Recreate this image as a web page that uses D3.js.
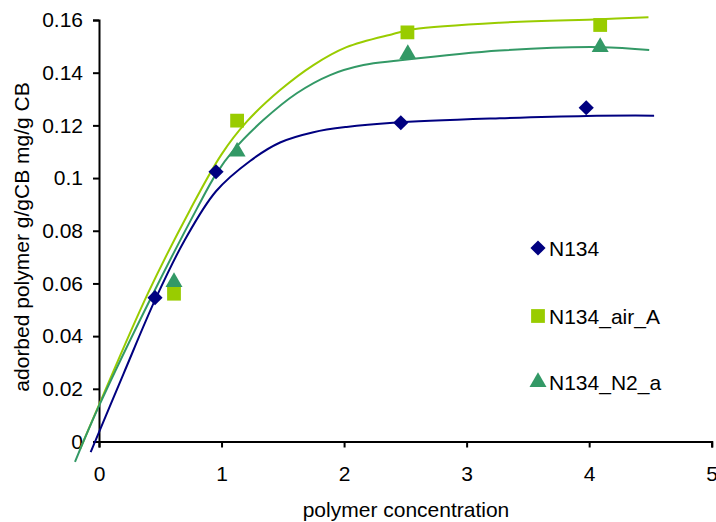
<!DOCTYPE html>
<html>
<head>
<meta charset="utf-8">
<script src="https://cdn.jsdelivr.net/npm/d3@7"></script>
<style>
  html, body { margin: 0; padding: 0; background: #fff; }
  svg { display: block; font-family: Arial, "Liberation Sans", sans-serif; }
</style>
</head>
<body>
<svg id="chart" width="716" height="522"></svg>
<script>
// Measured adsorption points (polymer concentration vs adsorbed polymer)
const seriesNames = ["N134", "N134_air_A", "N134_N2_a"];
const n134X = [0.457, 0.955, 2.463, 3.976];
const n134Y = [0.0546, 0.1024, 0.121, 0.1267];
const airX = [0.612, 1.127, 2.517, 4.09];
const airY = [0.0561, 0.1218, 0.1553, 0.1581];
const n2X = [0.612, 1.127, 2.52, 4.09];
const n2Y = [0.0605, 0.110, 0.1471, 0.1497];

// Fitted trend curves, sampled along each series
const n134FitX = [-0.068, 0.2, 0.465, 0.7, 0.955, 1.233, 1.478, 1.75, 2.02, 2.40, 3.27, 3.98, 4.53];
const n134FitY = [-0.004, 0.0257, 0.0545, 0.0765, 0.095, 0.1065, 0.1135, 0.1174, 0.1194, 0.121, 0.1227, 0.1236, 0.1237];
const airFitX = [-0.155, 0, 0.40, 0.743, 1.0, 1.206, 1.478, 1.75, 2.02, 2.40, 2.566, 3.27, 4.09, 4.484];
const airFitY = [-0.003, 0.0139, 0.0563, 0.0879, 0.109, 0.1214, 0.1334, 0.1429, 0.1497, 0.1547, 0.1565, 0.159, 0.1603, 0.161];
const n2FitX = [-0.196, 0, 0.44, 0.80, 0.955, 1.10, 1.341, 1.614, 1.886, 2.158, 2.443, 3.27, 4.09, 4.49];
const n2FitY = [-0.0077, 0.0135, 0.056, 0.0885, 0.1015, 0.1107, 0.122, 0.1322, 0.1391, 0.1429, 0.1446, 0.1484, 0.1497, 0.1486];

const xTicks = [0, 1, 2, 3, 4, 5];
const yTicks = [0, 0.02, 0.04, 0.06, 0.08, 0.1, 0.12, 0.14, 0.16];
const yTickLabels = ["0", "0.02", "0.04", "0.06", "0.08", "0.1", "0.12", "0.14", "0.16"];

const colors = ["#000080", "#99CC00", "#339966"];
const symbols = [d3.symbolSquare, d3.symbolSquare, d3.symbolTriangle];
const rotations = [45, 0, 0];
const symSizes = [115, 190, 125];

const svg = d3.select("#chart");
const x = d3.scaleLinear().domain([0, 5]).range([99, 711.7]);
const y = d3.scaleLinear().domain([0, 0.16]).range([441.5, 20]);

const zip = (a, b) => a.map((v, i) => [v, b[i]]);
const series = [
  { pts: zip(n134X, n134Y), fit: zip(n134FitX, n134FitY) },
  { pts: zip(airX, airY), fit: zip(airFitX, airFitY) },
  { pts: zip(n2X, n2Y), fit: zip(n2FitX, n2FitY) }
];

// Axes
const fontSize = 21;
const xAxis = d3.axisBottom(x).tickValues(xTicks).tickSize(6).tickPadding(19).tickFormat(d3.format("d"));
const yAxis = d3.axisLeft(y).tickValues(yTicks).tickSize(6).tickPadding(10)
  .tickFormat((d, i) => yTickLabels[i]);

const gx = svg.append("g").attr("transform", `translate(0,${y(0)})`).call(xAxis);
const gy = svg.append("g").attr("transform", `translate(${x(0)},0)`).call(yAxis);
[gx, gy].forEach(g => {
  g.select(".domain").attr("stroke", "#000").attr("stroke-width", 2);
  g.selectAll(".tick line").attr("stroke", "#000").attr("stroke-width", 2);
  g.selectAll(".tick text").attr("fill", "#000").style("font-size", fontSize + "px")
    .style("font-family", "Arial, 'Liberation Sans', sans-serif");
});

// Trend curves
const line = d3.line().x(d => x(d[0])).y(d => y(d[1])).curve(d3.curveCatmullRom.alpha(0.5));
series.forEach((s, i) => {
  svg.append("path").datum(s.fit)
    .attr("fill", "none").attr("stroke", colors[i]).attr("stroke-width", 2)
    .attr("d", line);
});

// Markers
series.forEach((s, i) => {
  svg.append("g").selectAll("path").data(s.pts).join("path")
    .attr("transform", d => `translate(${x(d[0])},${y(d[1])}) rotate(${rotations[i]})`)
    .attr("d", d3.symbol().type(symbols[i]).size(symSizes[i]))
    .attr("fill", colors[i]);
});

// Legend
const legendY = [248, 316, 382];
const legend = svg.append("g");
seriesNames.forEach((name, i) => {
  legend.append("path")
    .attr("transform", `translate(538,${legendY[i]}) rotate(${rotations[i]})`)
    .attr("d", d3.symbol().type(symbols[i]).size(symSizes[i]))
    .attr("fill", colors[i]);
  legend.append("text")
    .attr("x", 549).attr("y", legendY[i] + 7.5)
    .style("font-size", fontSize + "px").attr("fill", "#000")
    .text(name);
});

// Axis titles
svg.append("text")
  .attr("x", 406).attr("y", 517)
  .attr("text-anchor", "middle")
  .style("font-size", fontSize + "px").attr("fill", "#000")
  .text("polymer concentration");
svg.append("text")
  .attr("transform", "translate(28.5,237) rotate(-90)")
  .attr("text-anchor", "middle")
  .style("font-size", fontSize + "px").attr("fill", "#000")
  .text("adorbed polymer g/gCB mg/g CB");
</script>
</body>
</html>
